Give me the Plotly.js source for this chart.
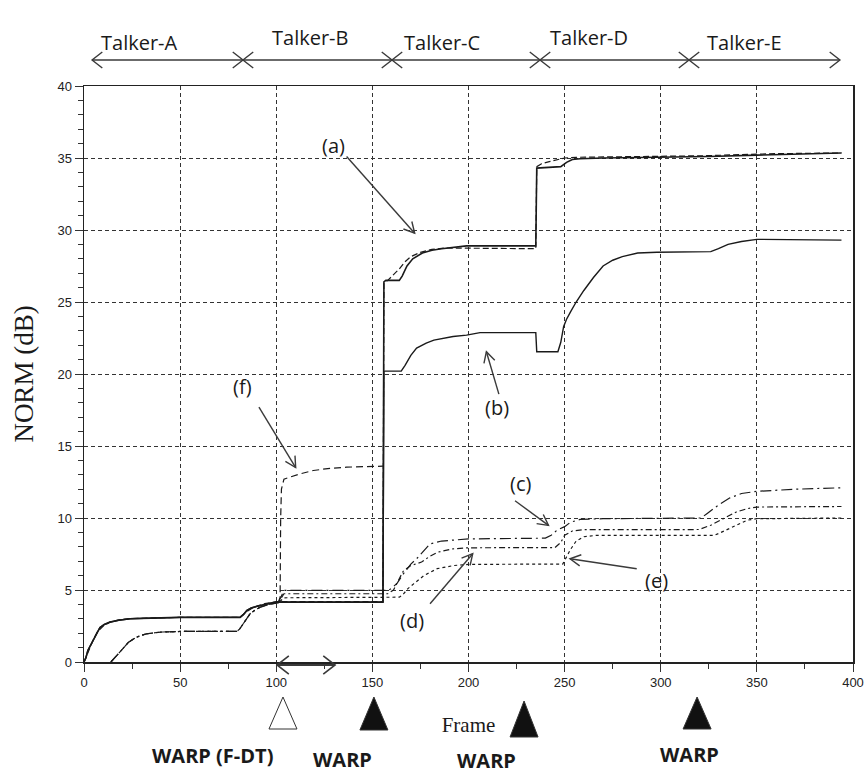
<!DOCTYPE html>
<html><head><meta charset="utf-8">
<script src="https://cdn.plot.ly/plotly-3.0.1.min.js"></script>
<style>html,body{margin:0;padding:0;background:#fff}</style>
</head><body><div id="chart" style="width:864px;height:780px"></div>
<script>
// ---------------- data ----------------
const earlyUpperX = [0, 1, 2, 3.5, 5, 6.5, 8.3, 10.5, 13.5, 18, 23.9, 35, 50, 81.2, 83, 84.7, 87, 89.5, 91.6, 95, 98, 101];
const earlyUpperY = [0, 0.3, 0.8, 1.2, 1.5, 2.0, 2.4, 2.6, 2.77, 2.9, 3.0, 3.05, 3.1, 3.1, 3.3, 3.58, 3.75, 3.85, 3.93, 4.05, 4.12, 4.16];

const aSolidX = earlyUpperX.concat([130, 155.5, 156, 157, 164, 165.5, 168, 171, 176, 181, 186, 192, 199, 210, 225, 235, 235.5, 240, 248, 251, 254, 258, 270, 298, 325, 350, 372, 394]);
const aSolidY = earlyUpperY.concat([4.16, 4.16, 26.4, 26.5, 26.5, 26.8, 27.5, 28.0, 28.4, 28.6, 28.7, 28.8, 28.9, 28.9, 28.9, 28.9, 34.3, 34.35, 34.4, 34.7, 34.9, 34.95, 35.0, 35.05, 35.1, 35.2, 35.3, 35.35]);

const aDashX = [0, 1.5, 3, 5, 7, 10, 14, 19, 25, 35, 50, 81, 84, 87, 90, 94, 100, 155.5, 156, 158, 161, 164, 167, 170, 175, 181, 188, 196, 205, 235, 235.5, 238, 242, 246, 250, 256, 280, 320, 360, 394];
const aDashY = [0, 0.5, 1.0, 1.6, 2.1, 2.5, 2.8, 2.95, 3.02, 3.07, 3.1, 3.1, 3.45, 3.7, 3.88, 4.05, 4.2, 4.2, 26.3, 26.5, 26.9, 27.3, 27.8, 28.15, 28.45, 28.65, 28.75, 28.75, 28.7, 28.7, 34.4, 34.6, 34.75, 34.9, 35.0, 35.05, 35.1, 35.15, 35.3, 35.35];

const bX = earlyUpperX.concat([130, 155.5, 156, 157, 165, 167, 170, 173, 178, 182, 187, 192, 199, 206, 235, 235.5, 246.5, 248, 249.5, 251, 253, 256, 260, 265, 270, 275, 280, 288, 298, 326, 330, 335, 342, 350, 394]);
const bY = earlyUpperY.concat([4.16, 4.16, 20.2, 20.2, 20.2, 20.6, 21.3, 21.8, 22.15, 22.35, 22.5, 22.6, 22.7, 22.87, 22.87, 21.55, 21.55, 22.2, 23.3, 23.8, 24.3, 25.0, 25.8, 26.7, 27.5, 27.9, 28.15, 28.4, 28.45, 28.5, 28.7, 29.0, 29.2, 29.35, 29.3]);

const earlyLowX = [14, 16, 18, 20.5, 23, 25.7, 29, 32.6, 40, 50, 79.5, 81, 83, 85, 86.5, 89, 91.6, 96, 101];
const earlyLowY = [0, 0.3, 0.65, 1.03, 1.35, 1.6, 1.82, 1.96, 2.08, 2.12, 2.12, 2.3, 2.68, 3.0, 3.37, 3.6, 3.8, 4.0, 4.1];

const cX = earlyLowX.concat([104, 158, 160, 163, 166, 170, 173, 177, 180, 186, 193.5, 200, 240, 243, 246, 250, 253, 258, 270, 321, 324, 330, 336, 342, 350, 370, 394]);
const cY = earlyLowY.concat([4.97, 4.97, 5.1, 5.5, 6.1, 6.8, 7.17, 7.8, 8.2, 8.4, 8.5, 8.55, 8.6, 8.8, 9.15, 9.4, 9.7, 9.9, 9.95, 10.0, 10.3, 10.9, 11.4, 11.7, 11.85, 12.0, 12.1]);

const dX = earlyLowX.concat([104, 158, 161, 163.5, 166, 170, 175.6, 180, 184, 192, 200, 245, 248, 250, 254, 260, 320, 326, 332, 339, 345, 350, 394]);
const dY = earlyLowY.concat([4.74, 4.74, 5.0, 5.6, 6.3, 6.7, 6.94, 7.35, 7.63, 7.86, 7.93, 7.95, 8.3, 8.8, 9.1, 9.19, 9.2, 9.5, 9.9, 10.4, 10.65, 10.76, 10.8]);

const eX = earlyLowX.concat([104, 160, 164, 166, 168.5, 171.6, 176.8, 183.7, 192.4, 200, 249, 251, 253, 256, 260, 266, 328, 333, 339.5, 345, 350, 394]);
const eY = earlyLowY.concat([4.46, 4.46, 4.5, 4.7, 5.1, 5.44, 6.0, 6.48, 6.7, 6.78, 6.8, 7.3, 7.8, 8.4, 8.7, 8.79, 8.8, 9.1, 9.5, 9.85, 9.95, 10.0]);

const fX = [101, 102, 102.3, 102.7, 104, 106, 112, 119.3, 128, 136.6, 150.4, 155.5];
const fY = [4.1, 4.5, 10.0, 12.0, 12.7, 12.8, 13.05, 13.3, 13.45, 13.53, 13.57, 13.6];

// curve labels with arrows
const labelText = ['(a)', '(b)', '(c)', '(d)', '(e)', '(f)'];
const labelX = [130, 214.9, 226.8, 170.4, 297.9, 82.4];
const labelY = [35.9, 17.7, 12.38, 2.9, 5.67, 19.1];
const arrowTailX = [136.6, 215.8, 224.2, 180, 287.5, 91];
const arrowTailY = [35.1, 18.6, 11.2, 4.05, 6.48, 17.7];
const arrowTipX = [172, 209.3, 241.6, 202.2, 252.8, 110.1];
const arrowTipY = [29.78, 21.55, 9.49, 7.52, 7.17, 13.5];

// talker segments (frames)
const talkerNames = ['Talker-A', 'Talker-B', 'Talker-C', 'Talker-D', 'Talker-E'];
const talkerLabelX = [29, 117.6, 186.2, 262.7, 343.8];
const talkerBounds = [4.2, 82.7, 160.2, 237.2, 314.7, 393.2];

// warp events (frames)
const warpFrames = [103.5, 150.8, 228.9, 318.9];
const warpFilled = [false, true, true, true];
const warpText = ['WARP (F-DT)', 'WARP', 'WARP', 'WARP'];
const warpTextX = [66.6, 134.7, 209.6, 315.2];
const fdtSpan = [100.4, 130.6];

// ---------------- layout helpers ----------------
const PLOT_BOTTOM = 662, PLOT_H = 576, PLOT_W = 769;
const PX_PER_FRAME = PLOT_W / 400, PX_PER_DB = PLOT_H / 40;
const py = p => (PLOT_BOTTOM - p) / PLOT_H;   // pixel row -> paper y

const ink = '#1a1a1a';
function tr(x, y, dash, w) {
  return {x: x, y: y, type: 'scatter', mode: 'lines', hoverinfo: 'skip',
          line: {color: ink, width: w, dash: dash, shape: 'linear'}};
}
const traces = [
  tr(cX, cY, '11px,4px,2px,4px', 1.2),
  tr(dX, dY, '6px,3px,2px,3px', 1.2),
  tr(eX, eY, '3px,3px', 1.2),
  tr(fX, fY, '7px,4px', 1.2),
  tr(aDashX, aDashY, '6px,3px', 1.2),
  tr(bX, bY, 'solid', 1.4),
  tr(aSolidX, aSolidY, 'solid', 1.6)
];

const annotations = [];
const shapes = [];
const sans = 'Open Sans, Liberation Sans, sans-serif';
const arrowInk = '#3a3a3a';

// open chevron head (pixel-sized) at an anchor; angle = direction of pointing (deg, screen y up)
function chevron(x, yref, y, angleDeg, len, spreadDeg, width) {
  const t = angleDeg * Math.PI / 180, s = spreadDeg * Math.PI / 180;
  const p1x = -len * Math.cos(t - s), p1y = -len * Math.sin(t - s);
  const p2x = -len * Math.cos(t + s), p2y = -len * Math.sin(t + s);
  return {type: 'path', xref: 'x', yref: yref, xsizemode: 'pixel', ysizemode: 'pixel',
    xanchor: x, yanchor: y, layer: 'above',
    path: `M ${p1x.toFixed(2)} ${p1y.toFixed(2)} L 0 0 L ${p2x.toFixed(2)} ${p2y.toFixed(2)}`,
    fillcolor: 'rgba(0,0,0,0)', line: {color: arrowInk, width: width}};
}

// curve labels and arrows
labelText.forEach((t, i) => {
  annotations.push({x: labelX[i], y: labelY[i], xref: 'x', yref: 'y', text: t, showarrow: false,
    font: {family: sans, size: 20, color: ink}});
  shapes.push({type: 'line', xref: 'x', yref: 'y', x0: arrowTailX[i], y0: arrowTailY[i], x1: arrowTipX[i], y1: arrowTipY[i],
    layer: 'above', line: {color: arrowInk, width: 1.4}});
  const ang = Math.atan2((arrowTipY[i] - arrowTailY[i]) * PX_PER_DB, (arrowTipX[i] - arrowTailX[i]) * PX_PER_FRAME) * 180 / Math.PI;
  shapes.push(chevron(arrowTipX[i], 'y', arrowTipY[i], ang, 12, 28, 1.4));
});

// talker labels & segment arrows
const yTalk = py(60);
talkerNames.forEach((t, i) => {
  annotations.push({x: talkerLabelX[i], y: py(i % 2 === 1 ? 22 : 27), xref: 'x', yref: 'paper', text: t,
    showarrow: false, font: {family: sans, size: 20, color: ink}});
  shapes.push({type: 'line', xref: 'x', yref: 'paper', x0: talkerBounds[i], x1: talkerBounds[i + 1], y0: yTalk, y1: yTalk,
    layer: 'above', line: {color: arrowInk, width: 1.6}});
  shapes.push(chevron(talkerBounds[i], 'paper', yTalk, 180, 13, 38, 1.4));
  shapes.push(chevron(talkerBounds[i + 1], 'paper', yTalk, 0, 13, 38, 1.4));
});

// F-DT span arrow just below the axis
const yF = py(665);
shapes.push({type: 'line', xref: 'x', yref: 'paper', x0: fdtSpan[0], x1: fdtSpan[1], y0: yF, y1: yF,
  layer: 'above', line: {color: arrowInk, width: 2}});
shapes.push(chevron(fdtSpan[0], 'paper', yF, 180, 15, 38, 1.6));
shapes.push(chevron(fdtSpan[1], 'paper', yF, 0, 15, 38, 1.6));

// warp triangles and labels
const triTop = [697, 697, 701, 697], triBot = [729, 730, 737, 729];
const triHalf = 14 / PX_PER_FRAME;
warpFrames.forEach((f, i) => {
  const yT = py(triTop[i]), yB = py(triBot[i]);
  shapes.push({type: 'path', xref: 'x', yref: 'paper', layer: 'above',
    path: `M ${f - triHalf} ${yB} L ${f + triHalf} ${yB} L ${f} ${yT} Z`,
    fillcolor: warpFilled[i] ? '#111' : '#fff', line: {color: '#333', width: 1}});
  annotations.push({x: warpTextX[i], y: py([771, 775, 776, 770][i]), xref: 'x', yref: 'paper', text: '<b>' + warpText[i] + '</b>',
    showarrow: false, font: {family: sans, size: 20, color: ink}});
});

const layout = {
  width: 864, height: 780,
  margin: {l: 84, r: 11, t: 86, b: 118},
  paper_bgcolor: '#fff', plot_bgcolor: '#fff',
  showlegend: false,
  xaxis: {
    range: [0, 400], tick0: 0, dtick: 50, ticks: 'outside', ticklen: 8, tickwidth: 1, tickcolor: '#333',
    showline: true, linecolor: '#222', linewidth: 1.5, mirror: true, zeroline: false,
    showgrid: true, gridcolor: '#333', gridwidth: 1, griddash: '4px,3px',
    minor: {dtick: 25, ticks: 'outside', ticklen: 5, tickcolor: '#333', showgrid: false},
    tickfont: {family: 'Liberation Sans, Arial, sans-serif', size: 13, color: '#222'},
    title: {text: 'Frame', standoff: 28, font: {family: 'Liberation Serif, Times New Roman, serif', size: 21, color: ink}},
    automargin: false
  },
  yaxis: {
    range: [0, 40], tick0: 0, dtick: 5, ticks: 'outside', ticklen: 8, tickwidth: 1, tickcolor: '#333',
    showline: true, linecolor: '#222', linewidth: 1.5, mirror: true, zeroline: false,
    showgrid: true, gridcolor: '#333', gridwidth: 1, griddash: '4px,3px',
    minor: {dtick: 1, ticks: 'outside', ticklen: 5, tickcolor: '#333', showgrid: false},
    tickfont: {family: 'Liberation Sans, Arial, sans-serif', size: 13, color: '#222'},
    title: {text: 'NORM (dB)', standoff: 16, font: {family: 'Liberation Serif, Times New Roman, serif', size: 27, color: ink}},
    automargin: false
  },
  annotations: annotations,
  shapes: shapes
};

Plotly.newPlot('chart', traces, layout, {staticPlot: true, displayModeBar: false});
</script></body></html>
